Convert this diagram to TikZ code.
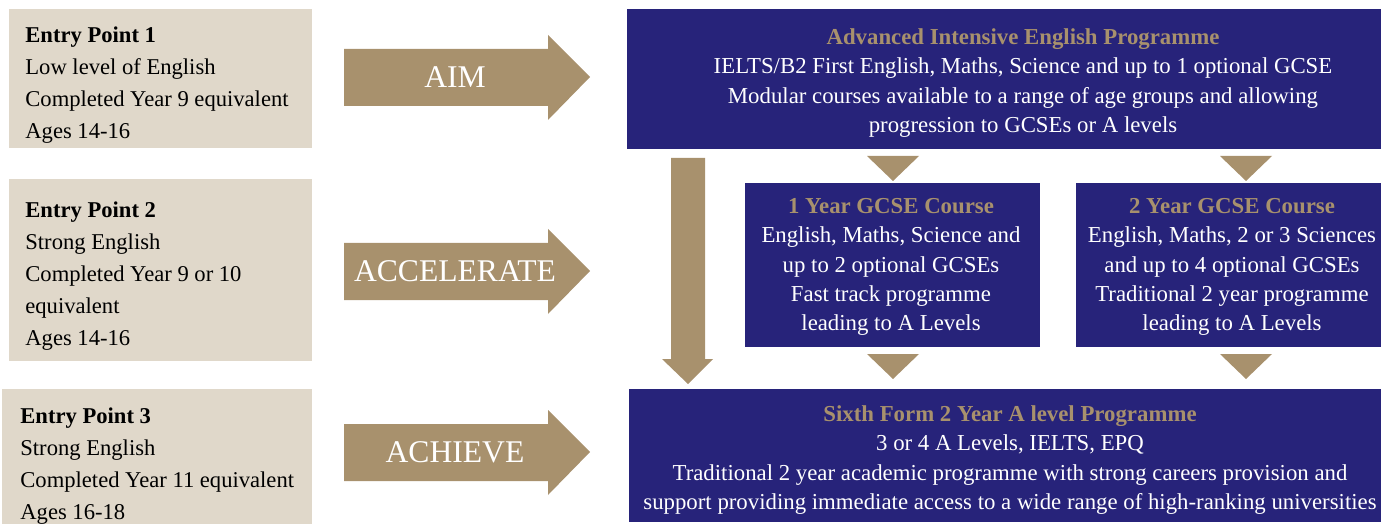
\documentclass[tikz,border=0pt]{standalone}
\usepackage{fontspec}
\setmainfont{Liberation Serif}
\definecolor{paper}{HTML}{E0D8CA}
\definecolor{bronze}{HTML}{A8916D}
\definecolor{ink}{HTML}{27237A}
\tikzset{
  entry/.style={anchor=north west,align=left,inner sep=0pt,font=\fontsize{11.3}{16}\selectfont},
  course/.style={align=center,inner sep=0pt,text=white,font=\fontsize{11.4}{14.7}\selectfont},
  stage/.style={text=white,inner sep=0pt,font=\fontsize{15.8}{18}\selectfont}
}
\newcommand\heading[1]{\textcolor{bronze}{\textbf{#1}}}
\begin{document}
\begin{tikzpicture}[x=0.5pt,y=-0.5pt]
\useasboundingbox (0,0) rectangle (1383,524);
% entry points
\fill[paper] (9,9) rectangle (312,148);
\fill[paper] (9,179) rectangle (312,361);
\fill[paper] (2,389) rectangle (312,524);
\node[entry] (ep1) at (25,26) {\textbf{Entry Point 1}\\Low level of English\\Completed Year 9 equivalent\\Ages 14-16};
\node[entry] (ep2) at (25,201) {\textbf{Entry Point 2}\\Strong English\\Completed Year 9 or 10\\equivalent\\Ages 14-16};
\node[entry] (ep3) at (20,407) {\textbf{Entry Point 3}\\Strong English\\Completed Year 11 equivalent\\Ages 16-18};
% big arrows
\foreach \ty/\lbl/\nm in {77/AIM/aim, 271/ACCELERATE/accel, 452/ACHIEVE/achieve} {
  \fill[bronze] (344,\ty-28) -- (548,\ty-28) -- (548,\ty-42) -- (590,\ty)
    -- (548,\ty+43) -- (548,\ty+29) -- (344,\ty+29) -- cycle;
  \node[stage] (\nm) at (455,\ty) {\lbl};
}
% programmes
\fill[ink] (627,9) rectangle (1381,149);
\fill[ink] (745,183) rectangle (1040,347);
\fill[ink] (1076,183) rectangle (1381,347);
\fill[ink] (629,389) rectangle (1381,522);
\fill[bronze] (671,158) -- (705,158) -- (705,359) -- (713,359) -- (688,384)
  -- (662,359) -- (671,359) -- cycle;
\foreach \cx/\ty in {893/156, 1246/156, 893/354, 1246/354}
  \fill[bronze] (\cx-26,\ty) -- (\cx+26,\ty) -- (\cx,\ty+25) -- cycle;
\node[course] (aiep) at (1023,83) {\heading{Advanced Intensive English Programme}\\
  IELTS/B2 First English, Maths, Science and up to 1 optional GCSE\\
  Modular courses available to a range of age groups and allowing\\
  progression to GCSEs or A levels};
\node[course] (gcse1) at (891,267) {\heading{1 Year GCSE Course}\\
  English, Maths, Science and\\up to 2 optional GCSEs\\
  Fast track programme\\leading to A Levels};
\node[course] (gcse2) at (1232,267) {\heading{2 Year GCSE Course}\\
  English, Maths, 2 or 3 Sciences\\and up to 4 optional GCSEs\\
  Traditional 2 year programme\\leading to A Levels};
\node[course] (sixth) at (1010,460) {\heading{Sixth Form 2 Year A level Programme}\\
  3 or 4 A Levels, IELTS, EPQ\\
  Traditional 2 year academic programme with strong careers provision and\\
  support providing immediate access to a wide range of high-ranking universities};
\end{tikzpicture}
\end{document}
